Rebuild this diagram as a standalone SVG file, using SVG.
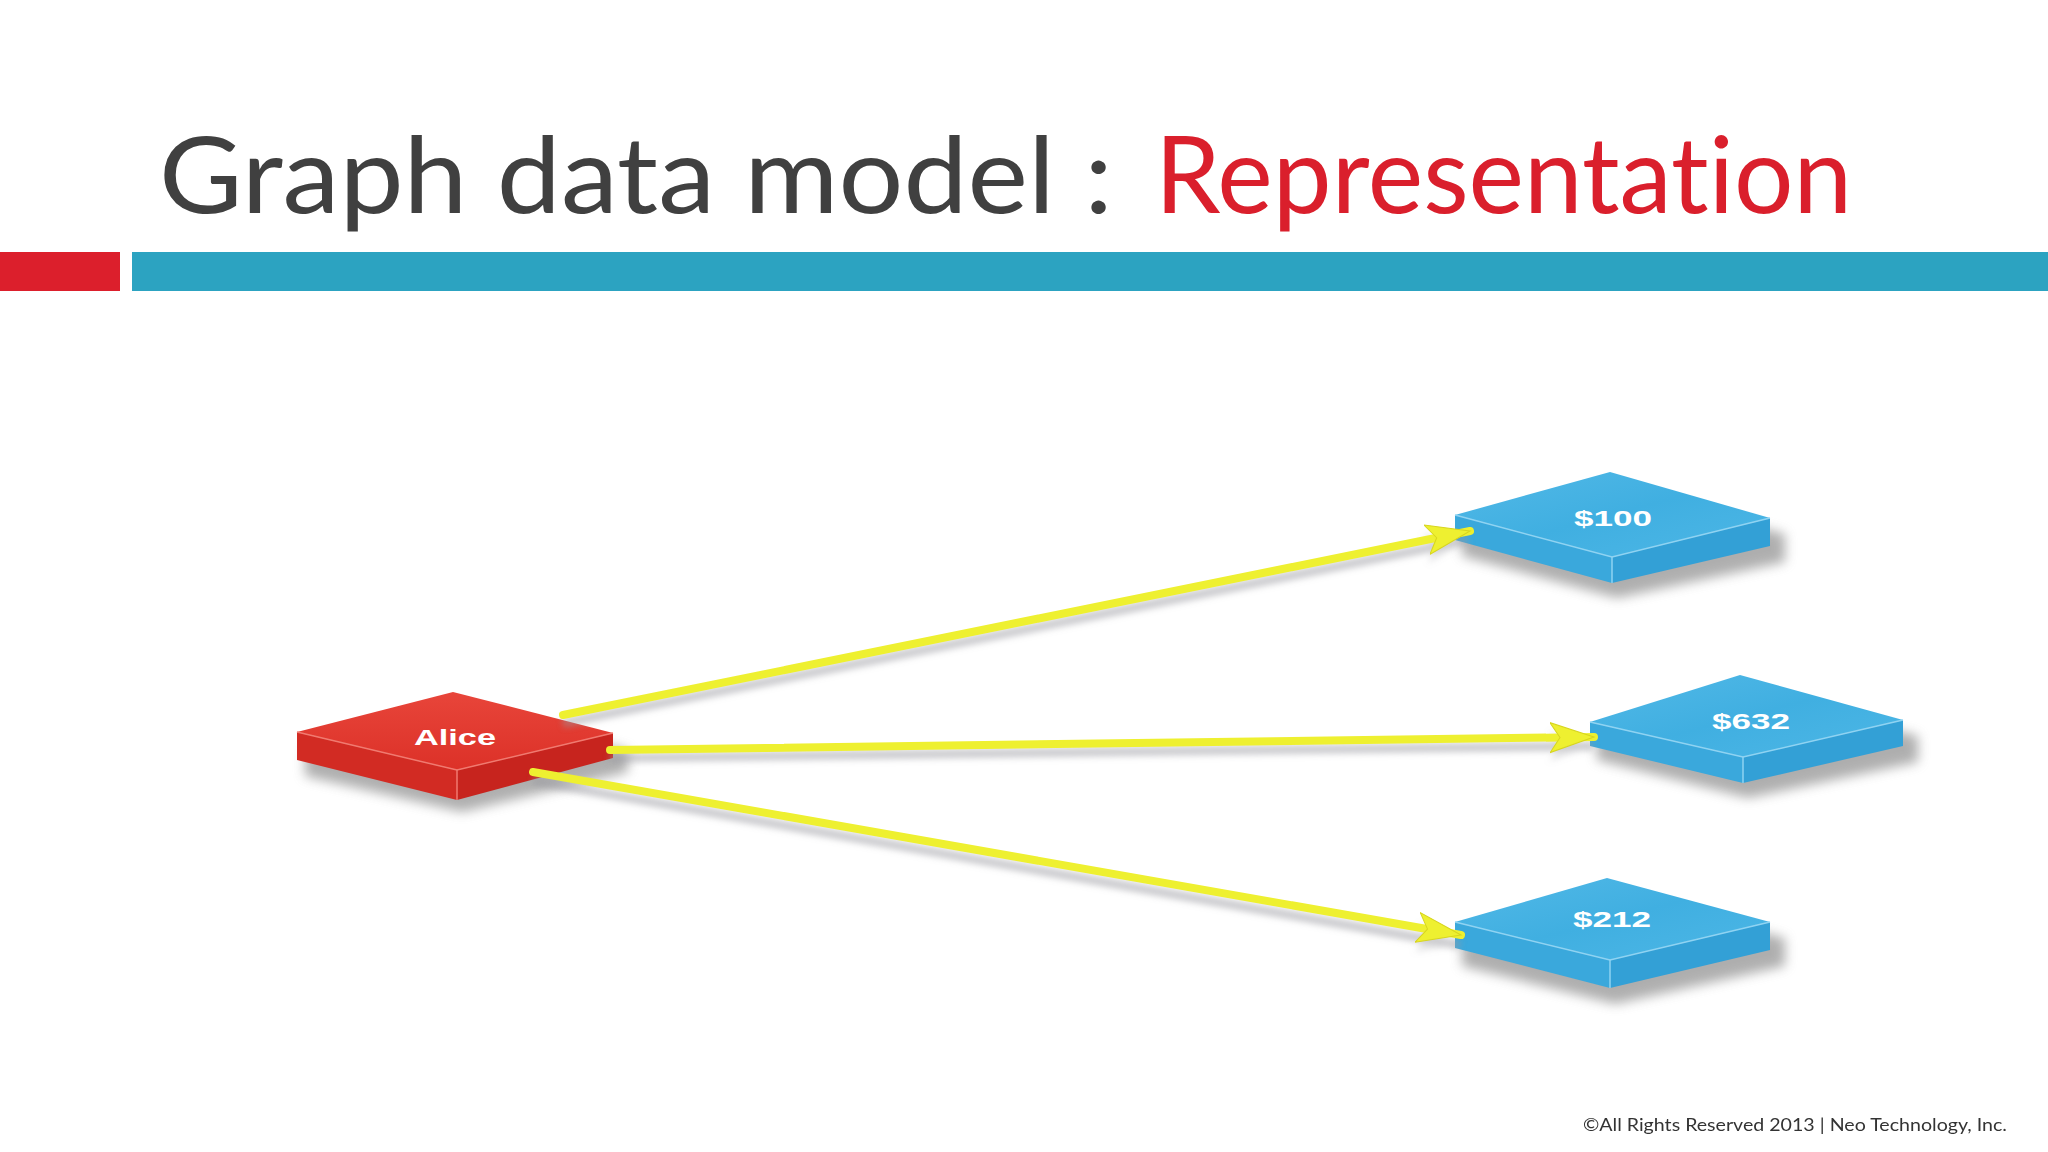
<svg xmlns="http://www.w3.org/2000/svg" width="2048" height="1152" viewBox="0 0 2048 1152">
  <defs>
    <style>
      .title { font-family: "Lato", "Open Sans", "Liberation Sans", sans-serif; font-size: 106px; font-variant-ligatures: none; }
      .lbl { font-family: "Liberation Sans", "DejaVu Sans", sans-serif; font-weight: bold; font-size: 22px; fill: #ffffff; text-anchor: middle; }
      .wire { fill: none; stroke: #EEF030; stroke-width: 8; stroke-linecap: round; }
      .wireShadow { fill: none; stroke: #9a9aa0; stroke-width: 9; opacity: 0.5; }
      .foot { font-family: "Lato", "Open Sans", "Liberation Sans", sans-serif; font-size: 18px; fill: #333333; }
    </style>
    <filter id="blur" x="-20%" y="-50%" width="140%" height="200%">
      <feGaussianBlur stdDeviation="6"/>
    </filter>
    <filter id="blurS" x="-10%" y="-50%" width="120%" height="200%">
      <feGaussianBlur stdDeviation="3"/>
    </filter>
    <marker id="head" markerUnits="userSpaceOnUse" viewBox="-44 -16 46 32" refX="0" refY="0" markerWidth="46" markerHeight="32" orient="auto">
      <path d="M0,0 L-44,-15 L-34,0 L-44,15 Z" fill="#EEF030" stroke="#D7D51E" stroke-width="1"/>
    </marker>
    <marker id="headS" markerUnits="userSpaceOnUse" viewBox="-44 -16 46 32" refX="0" refY="0" markerWidth="46" markerHeight="32" orient="auto">
      <path d="M0,0 L-44,-15 L-34,0 L-44,15 Z" fill="#9a9aa0" opacity="0.5"/>
    </marker>
    <linearGradient id="redTop" x1="0" y1="0" x2="0" y2="1">
      <stop offset="0" stop-color="#E8453A"/>
      <stop offset="1" stop-color="#DC3128"/>
    </linearGradient>
    <linearGradient id="blueTop" x1="0" y1="0" x2="1" y2="1">
      <stop offset="0" stop-color="#52B9E7"/>
      <stop offset="0.5" stop-color="#40AFE1"/>
      <stop offset="1" stop-color="#4DB7E6"/>
    </linearGradient>
  </defs>

  <rect x="0" y="0" width="2048" height="1152" fill="#ffffff"/>

  <!-- header -->
  <g id="title">
    <text class="title" x="159" y="213" fill="#404040" textLength="954" lengthAdjust="spacingAndGlyphs">Graph data model :</text>
    <text class="title" x="1155" y="213" fill="#DA1F2C" textLength="697" lengthAdjust="spacingAndGlyphs">Representation</text>
  </g>
  <g id="bars">
    <rect x="0" y="252" width="120" height="39" fill="#DC1F2C"/>
    <rect x="132" y="252" width="1916" height="39" fill="#2CA3C1"/>
  </g>

  <!-- node shadows -->
  <g id="shadows" filter="url(#blur)" fill="#7a7a7a" opacity="0.6">
    <polygon points="305,748 460,710 628,750 628,772 462,812 305,776"/>
    <polygon points="1462,530 1615,490 1785,534 1785,562 1617,598 1462,556"/>
    <polygon points="1597,737 1745,693 1918,736 1918,762 1748,798 1597,760"/>
    <polygon points="1462,937 1612,896 1785,938 1785,966 1615,1004 1462,966"/>
  </g>

  <!-- nodes -->
  <g id="node-alice">
    <polygon points="297,732 457,770 457,800 297,760" fill="#D22B23"/>
    <polygon points="457,770 613,733 613,758 457,800" fill="#C7241E"/>
    <polygon points="297,732 453,692 613,733 457,770" fill="url(#redTop)"/>
    <polyline points="297,732 457,770 613,733" fill="none" stroke="#F07A70" stroke-width="1.5"/>
    <line x1="457" y1="770" x2="457" y2="800" stroke="#F07A70" stroke-width="1.5"/>
    <text class="lbl" x="455" y="745" textLength="82" lengthAdjust="spacingAndGlyphs">Alice</text>
  </g>

  <g id="node-100">
    <polygon points="1455,515 1612,557 1612,583 1455,540" fill="#3AA8DC"/>
    <polygon points="1612,557 1770,518 1770,546 1612,583" fill="#33A0D6"/>
    <polygon points="1455,515 1610,472 1770,518 1612,557" fill="url(#blueTop)"/>
    <polyline points="1455,515 1612,557 1770,518" fill="none" stroke="#8FD3F2" stroke-width="1.5"/>
    <line x1="1612" y1="557" x2="1612" y2="583" stroke="#8FD3F2" stroke-width="1.5"/>
    <text class="lbl" x="1613" y="526" textLength="78" lengthAdjust="spacingAndGlyphs">$100</text>
  </g>

  <g id="node-632">
    <polygon points="1590,722 1743,757 1743,783 1590,746" fill="#3AA8DC"/>
    <polygon points="1743,757 1903,720 1903,746 1743,783" fill="#33A0D6"/>
    <polygon points="1590,722 1740,675 1903,720 1743,757" fill="url(#blueTop)"/>
    <polyline points="1590,722 1743,757 1903,720" fill="none" stroke="#8FD3F2" stroke-width="1.5"/>
    <line x1="1743" y1="757" x2="1743" y2="783" stroke="#8FD3F2" stroke-width="1.5"/>
    <text class="lbl" x="1751" y="729" textLength="78" lengthAdjust="spacingAndGlyphs">$632</text>
  </g>

  <g id="node-212">
    <polygon points="1455,922 1610,960 1610,988 1455,948" fill="#3AA8DC"/>
    <polygon points="1610,960 1770,922 1770,950 1610,988" fill="#33A0D6"/>
    <polygon points="1455,922 1607,878 1770,922 1610,960" fill="url(#blueTop)"/>
    <polyline points="1455,922 1610,960 1770,922" fill="none" stroke="#8FD3F2" stroke-width="1.5"/>
    <line x1="1610" y1="960" x2="1610" y2="988" stroke="#8FD3F2" stroke-width="1.5"/>
    <text class="lbl" x="1612" y="927" textLength="78" lengthAdjust="spacingAndGlyphs">$212</text>
  </g>

  <!-- connectors -->
  <g id="connectors">
    <g filter="url(#blurS)">
      <line class="wireShadow" x1="563" y1="723" x2="1468" y2="540" marker-end="url(#headS)"/>
      <line class="wireShadow" x1="610" y1="758" x2="1593" y2="746" marker-end="url(#headS)"/>
      <line class="wireShadow" x1="533" y1="781" x2="1460" y2="945" marker-end="url(#headS)"/>
    </g>
    <line class="wire" x1="563" y1="715" x2="1470" y2="531" marker-end="url(#head)"/>
    <line class="wire" x1="610" y1="750" x2="1594" y2="737" marker-end="url(#head)"/>
    <line class="wire" x1="533" y1="772" x2="1461" y2="935" marker-end="url(#head)"/>
  </g>

  <g id="footer">
    <text class="foot" x="1583" y="1131" textLength="424" lengthAdjust="spacingAndGlyphs">©All Rights Reserved 2013 | Neo Technology, Inc.</text>
  </g>
</svg>
